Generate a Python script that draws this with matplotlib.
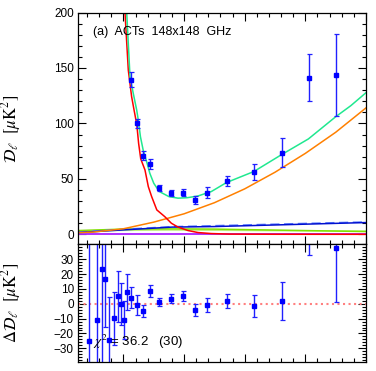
import matplotlib
matplotlib.use("Agg")
import matplotlib.pyplot as plt
from matplotlib.ticker import MultipleLocator

plt.rcParams['font.family'] = ['Liberation Sans', 'DejaVu Sans']
plt.rcParams['mathtext.fontset'] = 'stix'

# binned band powers, ACT south 148x148
ell_top = [2260, 2463, 2661, 2859, 3156, 3562, 3964, 4360, 4766, 5415, 6316, 7220, 8121, 9021]
D_top = [139.2, 100.2, 70.7, 63.8, 41.6, 37.1, 37.7, 30.8, 37.7, 47.9, 56.0, 73.7, 141.3, 143.7]
err_top = [6.8, 4.0, 4.0, 4.5, 2.7, 2.7, 3.5, 3.6, 5.0, 4.7, 7.4, 12.8, 21.0, 36.6]

# residuals (data - model)
ell_res = [873, 1117, 1302, 1401, 1523, 1698, 1810, 1909, 2008, 2117, 2260, 2463,
           2661, 2859, 3156, 3562, 3964, 4360, 4766, 5415, 6316, 7220, 8121, 9021]
res = [-25.3, -11.2, 23.3, 16.6, -24.2, -9.8, 4.9, 0.0, -11.0, 8.0, 4.0, -0.9,
       -4.7, 8.3, 1.1, 3.4, 5.2, -4.0, -0.7, 2.0, -1.5, 1.8, 54.0, 37.4]
err_res = [110, 70, 65, 32, 29, 18, 17, 14, 13, 12, 7, 7,
           4, 4, 2.6, 3, 3.5, 4, 4.8, 4.6, 7.4, 12.5, 21, 36.5]

# model curves
ell_tot = [2000, 2107, 2216, 2324, 2437, 2489, 2560, 2650, 2780, 2870, 3000, 3180,
           3500, 3800, 4100, 4450, 4900, 5400, 6300, 7200, 8100, 9000, 9500, 10000]
D_tot = [240, 200, 142, 127, 112, 103, 88, 76, 64, 55, 46, 38.6,
         34, 32.6, 33, 34.5, 38.6, 46.7, 56.6, 71.6, 86, 106, 116, 127.7]

ell_cmb = [2000, 2050, 2160, 2270, 2350, 2440, 2500, 2570, 2710, 2820, 2930, 3100,
           3360, 3580, 3800, 4130, 4460, 4890, 5500, 7000, 10000]
D_cmb = [260, 200, 148, 124, 112, 99, 82, 68, 58, 43, 34, 22,
         16, 10, 6.5, 3.4, 1.6, 0.7, 0.2, 0.05, 0.0]

ell_ps = [500, 1000, 2000, 3000, 4000, 5000, 6000, 7000, 8000, 9000, 10000]
D_ps = [1.5, 2.0, 5.0, 11.0, 18.5, 28.5, 41.0, 56.0, 73.0, 92.0, 114.0]

ell_fg = [500, 2000, 3600, 5000, 7500, 10000]
D_sz = [1.6, 4.0, 6.5, 7.0, 8.8, 10.6]
D_sz2 = [2.0, 4.6, 6.9, 7.8, 9.5, 11.2]
D_cl = [3.4, 4.7, 4.9, 4.7, 3.6, 2.5]
D_cl2 = [3.0, 3.6, 3.9, 3.7, 3.2, 2.9]
D_dust = [0.5, 0.5, 0.5, 0.5, 0.5, 0.5]
D_ksz = [0.0, 0.0, 0.0, 0.0, 0.0, 0.0]

fig = plt.figure(figsize=(3.76, 3.71), dpi=100)
ax1 = fig.add_axes([0.2074, 0.3415, 0.766, 0.6248])
ax2 = fig.add_axes([0.2074, 0.0251, 0.766, 0.3164])

lw = 1.1
ax1.plot(ell_fg, D_ksz, color="#ff00ff", lw=lw)
ax1.plot(ell_fg, D_dust, color="#9933ff", lw=lw)
ax1.plot(ell_fg, D_cl2, color="#c0f080", lw=lw)
ax1.plot(ell_fg, D_cl, color="#80e000", lw=lw)
ax1.plot(ell_fg, D_sz2, color="#6080ff", lw=lw, ls=(0, (6, 3)))
ax1.plot(ell_fg, D_sz, color="#0010d0", lw=lw)
ax1.plot(ell_ps, D_ps, color="#ff8000", lw=lw)
ax1.plot(ell_cmb, D_cmb, color="#ff0000", lw=lw)
ax1.plot(ell_tot, D_tot, color="#20e890", lw=lw)
ax1.errorbar(ell_top, D_top, yerr=err_top, fmt="s", color="#0000ff", ms=2.6,
             ecolor="#2020ff", elinewidth=1.0, capsize=1.8, capthick=0.9)

ax2.axhline(0, color="#ff8080", ls=":", lw=1.5)
ax2.errorbar(ell_res, res, yerr=err_res, fmt="s", color="#0000ff", ms=2.6,
             ecolor="#2020ff", elinewidth=1.0, capsize=1.8, capthick=0.9)

ax1.set_xlim(500, 10000)
ax2.set_xlim(500, 10000)
ax1.set_ylim(-9, 200)
ax2.set_ylim(-39, 40)

for ax in (ax1, ax2):
    ax.xaxis.set_major_locator(MultipleLocator(2000))
    ax.xaxis.set_minor_locator(MultipleLocator(400))
    ax.tick_params(which="both", direction="in", top=True, right=True,
                   labelsize=8.5, width=0.8, pad=3)
    ax.tick_params(which="major", length=6)
    ax.tick_params(which="minor", length=3)
    ax.tick_params(axis="x", labelbottom=False)
    for s in ax.spines.values():
        s.set_linewidth(0.9)

ax1.yaxis.set_major_locator(MultipleLocator(50))
ax1.yaxis.set_minor_locator(MultipleLocator(10))
ax2.yaxis.set_major_locator(MultipleLocator(10))
ax2.yaxis.set_minor_locator(MultipleLocator(2))
ax2.set_yticks([-30, -20, -10, 0, 10, 20, 30])

ax1.set_ylabel(r"$\mathcal{D}_\ell\ \ [\mu{\rm K}^2]$", fontsize=12)
ax2.set_ylabel(r"$\Delta\mathcal{D}_\ell\ \ [\mu{\rm K}^2]$", fontsize=12)
ax1.yaxis.set_label_coords(-0.19, 0.5)
ax2.yaxis.set_label_coords(-0.19, 0.5)

ax1.text(0.052, 0.915, "(a)  ACTs  148x148  GHz", transform=ax1.transAxes,
         fontsize=9, va="center", ha="left")
ax2.text(0.052, 0.17, r"$\chi^2$ = 36.2   (30)", transform=ax2.transAxes,
         fontsize=9.5, va="center", ha="left", zorder=10)

fig.savefig("out.png", dpi=100)
